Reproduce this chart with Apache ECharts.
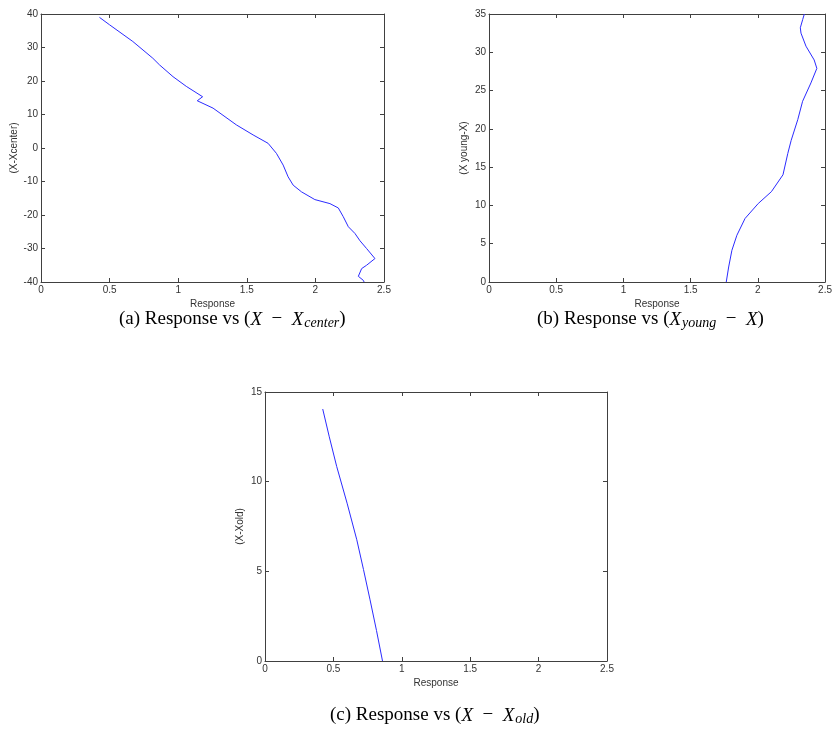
<!DOCTYPE html>
<html>
<head>
<meta charset="utf-8">
<script src="https://cdn.jsdelivr.net/npm/echarts@6/dist/echarts.min.js"></script>
<style>
  html, body { margin: 0; padding: 0; background: #fff; }
  #chart { width: 835px; height: 742px; }
</style>
</head>
<body>
<div id="chart"></div>
<script>
// x ticks shared by the three panels
const responseTicks = [0, 0.5, 1, 1.5, 2, 2.5];

// (a) Response vs (X - Xcenter)
const centerResp = [0.426, 0.499, 0.669, 0.815, 0.864, 0.962, 1.059, 1.178, 1.139, 1.152, 1.254, 1.424, 1.546, 1.655,
  1.716, 1.765, 1.801, 1.838, 1.899, 1.996, 2.106, 2.167, 2.203, 2.240, 2.288, 2.325, 2.373, 2.434, 2.373, 2.337,
  2.313, 2.349, 2.355];
const centerPos = [39.0, 36.8, 31.8, 26.8, 24.8, 21.3, 18.4, 15.3, 14.1, 13.7, 11.9, 6.9, 3.9, 1.4,
  -1.6, -5.1, -8.6, -11.1, -13.1, -15.4, -16.6, -17.9, -20.5, -23.5, -25.5, -27.7, -30.0, -33.0, -35.0, -36.0,
  -38.3, -39.5, -40];

// (b) Response vs (Xyoung - X)
const youngResp = [1.765, 1.783, 1.807, 1.844, 1.905, 2.003, 2.101, 2.187, 2.223, 2.248, 2.297, 2.333, 2.395, 2.439,
  2.419, 2.358, 2.321, 2.316, 2.334, 2.346];
const youngPos = [0, 1.96, 4.14, 6.1, 8.3, 10.25, 11.8, 14.0, 16.8, 18.5, 21.2, 23.6, 26.0, 27.9,
  29.0, 30.8, 32.5, 33.2, 34.3, 35];

// (c) Response vs (X - Xold)
const oldResp = [0.422, 0.470, 0.524, 0.600, 0.671, 0.720, 0.768, 0.815, 0.859];
const oldPos = [14.05, 12.5, 10.85, 8.8, 6.76, 5.1, 3.41, 1.7, 0];

const pairs = (xs, ys) => xs.map((x, i) => [x, ys[i]]);

const panels = [
  { grid: { left: 41, top: 14, width: 343, height: 268 }, yMin: -40, yMax: 40, yStep: 10, yName: '(X-Xcenter)', yGap: 22,
    data: pairs(centerResp, centerPos) },
  { grid: { left: 489, top: 14, width: 340, height: 268 }, yMin: 0, yMax: 35, yStep: 5, yName: '(X young-X)', yGap: 20,
    data: pairs(youngResp, youngPos) },
  { grid: { left: 265, top: 392, width: 342, height: 269 }, yMin: 0, yMax: 15, yStep: 5, yName: '(X-Xold)', yGap: 20,
    data: pairs(oldResp, oldPos) }
];

const axisCol = '#404040';
const labelStyle = { color: '#333', fontSize: 10, fontFamily: 'Liberation Sans, Arial, sans-serif' };
const grids = [], xAxes = [], yAxes = [], series = [];

panels.forEach((p, i) => {
  grids.push(p.grid);
  const xBase = {
    gridIndex: i, type: 'value', min: 0, max: 2.5, interval: 0.5,
    axisLine: { show: true, onZero: false, lineStyle: { color: axisCol, width: 1 } },
    axisTick: { show: true, inside: true, length: 4, lineStyle: { color: axisCol } },
    splitLine: { show: false }
  };
  xAxes.push(Object.assign({}, xBase, {
    position: 'bottom', name: 'Response', nameLocation: 'middle', nameGap: 17,
    nameTextStyle: labelStyle,
    axisLabel: Object.assign({ margin: 3, formatter: v => responseTicks.includes(v) ? String(v) : '' }, labelStyle)
  }));
  xAxes.push(Object.assign({}, xBase, { position: 'top', axisLabel: { show: false } }));
  const yBase = {
    gridIndex: i, type: 'value', min: p.yMin, max: p.yMax, interval: p.yStep,
    axisLine: { show: true, onZero: false, lineStyle: { color: axisCol, width: 1 } },
    axisTick: { show: true, inside: true, length: 4, lineStyle: { color: axisCol } },
    splitLine: { show: false }
  };
  yAxes.push(Object.assign({}, yBase, {
    position: 'left', name: p.yName, nameLocation: 'middle', nameGap: p.yGap, nameRotate: 90,
    nameTextStyle: labelStyle,
    axisLabel: Object.assign({ margin: 3 }, labelStyle)
  }));
  yAxes.push(Object.assign({}, yBase, { position: 'right', axisLabel: { show: false } }));
  series.push({
    type: 'line', xAxisIndex: i * 2, yAxisIndex: i * 2, data: p.data,
    showSymbol: false, smooth: false, lineStyle: { color: '#2b2bff', width: 1 }, silent: true, animation: false
  });
});

const serif = 'Liberation Serif, Times New Roman, serif';
const capRich = {
  n: { fontFamily: serif, fontSize: 19, color: '#111' },
  i: { fontFamily: serif, fontSize: 19, fontStyle: 'italic', color: '#111' },
  s: { fontFamily: serif, fontSize: 14, fontStyle: 'italic', color: '#111', padding: [7, 0, 0, 1] }
};
const caption = (x, y, text) => ({
  type: 'text', left: x, top: y,
  style: { text: text, rich: capRich, textAlign: 'center' }
});

const chart = echarts.init(document.getElementById('chart'));
chart.setOption({
  animation: false,
  grid: grids,
  xAxis: xAxes,
  yAxis: yAxes,
  series: series,
  graphic: [
    caption(119, 310, '{n|(a) Response vs (}{i|X}{n|  −  }{i|X}{s|center}{n|)}'),
    caption(537, 310, '{n|(b) Response vs (}{i|X}{s|young}{n|  −  }{i|X}{n|)}'),
    caption(330, 706, '{n|(c) Response vs (}{i|X}{n|  −  }{i|X}{s|old}{n|)}')
  ]
});
</script>
</body>
</html>
